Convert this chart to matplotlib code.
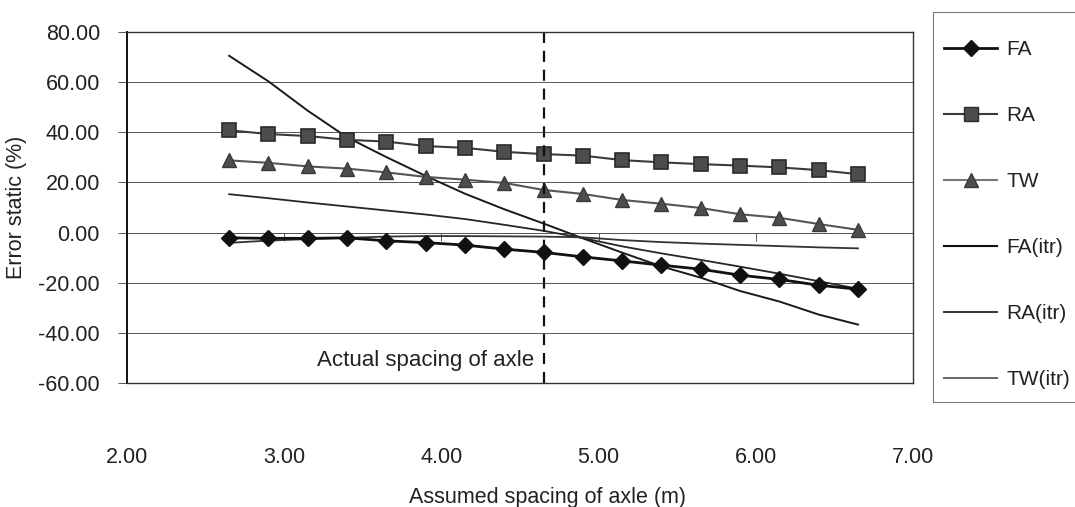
import matplotlib.pyplot as plt
from matplotlib.lines import Line2D
from matplotlib.patches import Rectangle

plt.rcParams['font.family'] = ['Liberation Sans', 'DejaVu Sans']

# assumed axle spacing (m)
spacing = [2.65, 2.90, 3.15, 3.40, 3.65, 3.90, 4.15, 4.40, 4.65,
           4.90, 5.15, 5.40, 5.65, 5.90, 6.15, 6.40, 6.65]
actual_spacing = 4.65

# error static (%)
fa = [-2.1, -2.3, -2.3, -2.1, -3.3, -4.0, -5.0, -6.6, -7.9,
      -9.7, -11.3, -13.0, -14.6, -17.0, -18.7, -21.0, -22.6]
ra = [40.8, 39.3, 38.5, 37.0, 36.3, 34.5, 33.8, 32.2, 31.3,
      30.7, 28.9, 28.0, 27.3, 26.7, 26.0, 24.9, 23.3]
tw = [28.8, 27.8, 26.4, 25.5, 24.0, 22.2, 21.1, 19.8, 17.0,
      15.4, 13.0, 11.5, 9.8, 7.3, 5.9, 3.4, 1.1]
fa_itr = [70.5, 60.3, 48.6, 38.0, 30.1, 22.6, 15.5, 9.3, 3.6,
          -2.3, -8.0, -13.5, -18.0, -23.3, -27.5, -32.7, -36.7]
ra_itr = [15.3, 13.7, 12.0, 10.4, 8.8, 7.2, 5.4, 3.1, 0.7,
          -2.2, -5.5, -8.3, -10.9, -13.6, -16.4, -19.4, -22.4]
tw_itr = [-4.1, -3.2, -2.6, -2.1, -1.6, -1.4, -1.4, -1.5, -1.6,
          -1.9, -3.0, -3.8, -4.4, -4.9, -5.4, -5.9, -6.3]

xticks = [2, 3, 4, 5, 6, 7]
yticks = [-60, -40, -20, 0, 20, 40, 60, 80]

fig = plt.figure(figsize=(10.75, 5.07), dpi=100)
ax = fig.add_axes([127/1075, 1 - 383/507, (913 - 127)/1075, (383 - 32)/507])

ax.set_xlim(2, 7)
ax.set_ylim(-60, 80)
ax.set_yticks(yticks)
ax.set_yticklabels(['%.2f' % v for v in yticks])
ax.set_xticks(xticks)
ax.set_xticklabels(['%.2f' % v for v in xticks])
ax.grid(axis='y', color='#555555', lw=0.7)
ax.set_axisbelow(True)
ax.tick_params(axis='y', direction='out', length=6.5, width=0.7, color='#555555',
               pad=13, labelsize=15.5, labelcolor='#222222')
ax.tick_params(axis='x', length=0, pad=46, labelsize=15.5, labelcolor='#222222')
for side in ['top', 'right', 'bottom']:
    ax.spines[side].set_color('#333333')
    ax.spines[side].set_linewidth(1.0)
ax.spines['left'].set_color('#111111')
ax.spines['left'].set_linewidth(1.4)

# horizontal axis line crossing at zero with its own tick marks
zero_axis = ax.secondary_xaxis(60 / 140)
zero_axis.set_xticks([3, 4, 5, 6])
zero_axis.tick_params(direction='out', length=6, width=0.7, color='#555555',
                      labelbottom=False, labeltop=False)
zero_axis.spines['bottom'].set_color('#555555')
zero_axis.spines['bottom'].set_linewidth(0.7)
zero_axis.spines['top'].set_visible(False)

ax.plot(spacing, fa_itr, color='#1a1a1a', lw=1.4, label='FA(itr)')
ax.plot(spacing, ra_itr, color='#262626', lw=1.3, label='RA(itr)')
ax.plot(spacing, tw_itr, color='#333333', lw=1.3, label='TW(itr)')
ax.plot(spacing, fa, color='#111111', lw=2.0, marker='D', ms=8,
        mfc='#111111', mec='#111111', label='FA')
ax.plot(spacing, ra, color='#3a3a3a', lw=1.5, marker='s', ms=9.5,
        mfc='#4d4d4d', mec='#2a2a2a', mew=1.2, label='RA')
ax.plot(spacing, tw, color='#555555', lw=1.5, marker='^', ms=9.5,
        mfc='#4d4d4d', mec='#3a3a3a', label='TW')

ax.axvline(actual_spacing, color='#111111', lw=1.6, ls=(0, (5, 3.5)))
ax.annotate('Actual spacing of axle', xy=(actual_spacing, -51),
            xytext=(-7, 0), textcoords='offset points',
            ha='right', va='center', fontsize=16, color='#222222')

ax.set_ylabel('Error static (%)', fontsize=15.5, color='#222222', labelpad=8)
ax.set_xlabel('Assumed spacing of axle (m)', fontsize=15.5, color='#222222',
              labelpad=14, x=0.535)

# legend box runs off the right edge of the figure
fig.patches.append(Rectangle((933/1075, 1 - 402/507), 160/1075, 390/507,
                             transform=fig.transFigure, fill=False,
                             edgecolor='#777777', lw=0.8))

handles = [
    Line2D([], [], color='#111111', lw=2.0, marker='D', ms=8, mfc='#111111'),
    Line2D([], [], color='#3a3a3a', lw=1.5, marker='s', ms=9.5,
           mfc='#4d4d4d', mec='#2a2a2a'),
    Line2D([], [], color='#777777', lw=1.5, marker='^', ms=9.5,
           mfc='#4d4d4d', mec='#3a3a3a'),
    Line2D([], [], color='#111111', lw=1.5),
    Line2D([], [], color='#333333', lw=1.4),
    Line2D([], [], color='#666666', lw=1.4),
]
labels = ['FA', 'RA', 'TW', 'FA(itr)', 'RA(itr)', 'TW(itr)']
fig.legend(handles, labels, loc='upper left',
           bbox_to_anchor=(944/1075, 1 - 40/507), frameon=False,
           fontsize=15, labelspacing=2.26, handlelength=2.55,
           handletextpad=0.45, borderpad=0, borderaxespad=0,
           labelcolor='#222222')

fig.savefig('out.png', dpi=100)
